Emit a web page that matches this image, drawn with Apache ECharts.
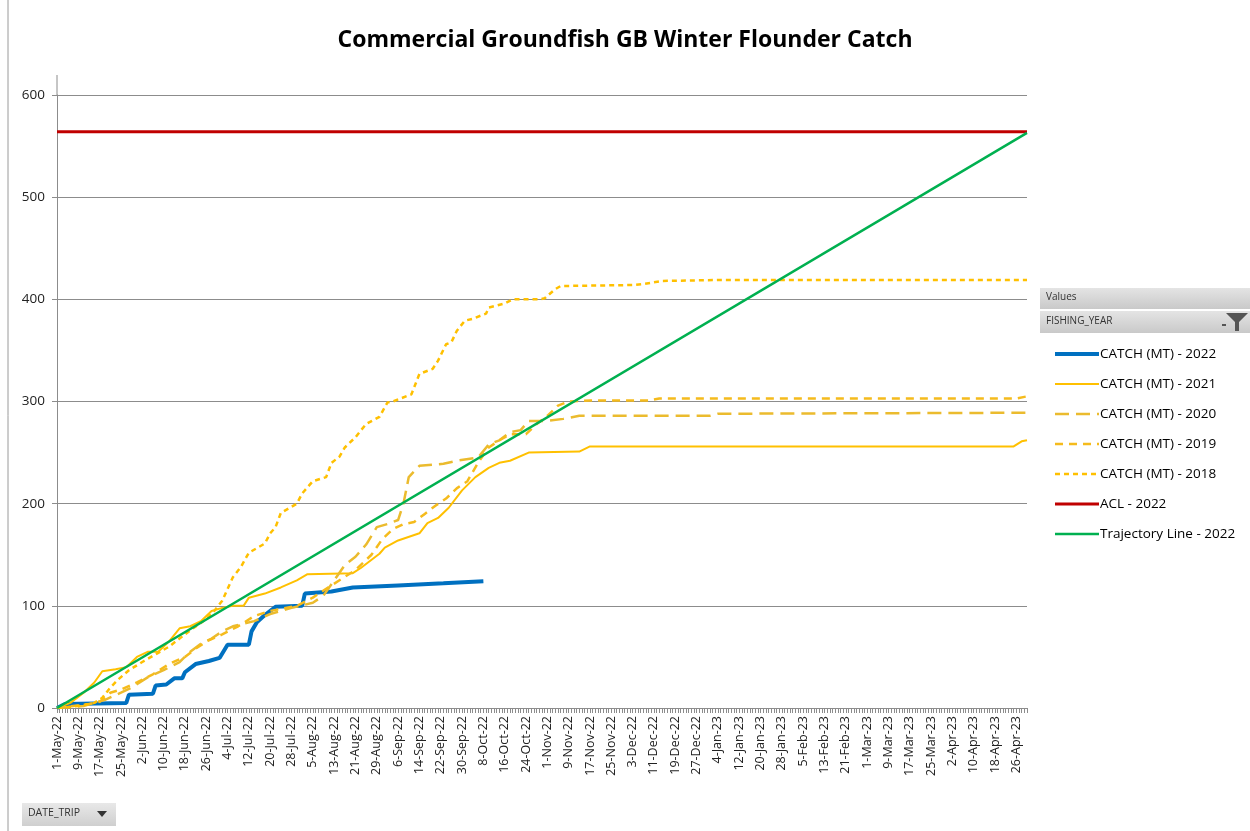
<!DOCTYPE html>
<html>
<head>
<meta charset="utf-8">
<script src="https://cdn.jsdelivr.net/npm/echarts@6/dist/echarts.min.js"></script>
<style>
  html, body { margin: 0; padding: 0; background: #fff; }
  #chart { width: 1250px; height: 831px; }
</style>
</head>
<body>
<div id="chart"></div>
<script>
// day-by-day category axis, fishing year 1-May-22 .. 30-Apr-23
const monthNames = ['Jan', 'Feb', 'Mar', 'Apr', 'May', 'Jun', 'Jul', 'Aug', 'Sep', 'Oct', 'Nov', 'Dec']
const days = []
for (let d = new Date(Date.UTC(2022, 4, 1)); d <= new Date(Date.UTC(2023, 3, 30)); d.setUTCDate(d.getUTCDate() + 1)) {
  days.push(d.getUTCDate() + '-' + monthNames[d.getUTCMonth()] + '-' + String(d.getUTCFullYear()).slice(2))
}

const yTicks = [0, 100, 200, 300, 400, 500, 600]

// [day index, cumulative catch (mt)]
const catch2022 = [[0, 0], [3, 4], [26, 5], [27, 13], [36, 14], [37, 22], [41, 23], [44, 29], [47, 29], [48, 35], [52, 43], [57, 46], [61, 49], [64, 62], [72, 62], [73, 75], [75, 84], [78, 91], [82, 99], [92, 100], [93, 112], [103, 114], [111, 118], [128, 120], [145, 122], [160, 124]]
const catch2021 = [[0, 0], [5, 5], [10, 15], [14, 25], [17, 36], [22, 38], [26, 40], [30, 50], [34, 55], [38, 55], [42, 65], [46, 78], [50, 80], [54, 85], [58, 95], [62, 98], [66, 100], [70, 100], [72, 108], [78, 112], [84, 118], [90, 125], [94, 131], [111, 132], [114, 137], [121, 151], [123, 157], [128, 164], [136, 171], [139, 181], [143, 186], [147, 196], [152, 213], [157, 226], [162, 235], [166, 240], [170, 242], [177, 250], [196, 251], [200, 256], [359, 256], [362, 261], [364, 262]]
const catch2020 = [[0, 0], [10, 2], [18, 8], [24, 15], [28, 20], [34, 30], [40, 37], [46, 45], [50, 55], [54, 63], [58, 68], [62, 75], [66, 80], [74, 85], [80, 92], [88, 98], [96, 103], [100, 110], [104, 125], [108, 140], [112, 148], [116, 160], [120, 177], [124, 180], [128, 184], [130, 200], [132, 226], [136, 237], [145, 239], [150, 242], [158, 245], [162, 258], [166, 262], [170, 270], [174, 272], [177, 281], [184, 281], [190, 283], [196, 286], [245, 286], [248, 288], [364, 289]]
const catch2019 = [[0, 0], [6, 2], [12, 4], [16, 6], [20, 15], [24, 18], [30, 25], [36, 33], [42, 43], [48, 50], [52, 58], [56, 65], [62, 72], [68, 80], [74, 90], [80, 95], [90, 100], [96, 108], [100, 115], [106, 125], [112, 135], [118, 150], [122, 165], [126, 175], [130, 180], [134, 182], [138, 190], [142, 198], [146, 205], [150, 215], [154, 222], [158, 240], [162, 255], [166, 262], [170, 268], [176, 268], [180, 278], [184, 286], [188, 296], [192, 300], [200, 301], [222, 301], [226, 303], [360, 303], [364, 305]]
const catch2018 = [[0, 0], [8, 2], [14, 5], [17, 10], [20, 20], [23, 28], [27, 37], [32, 45], [38, 54], [42, 60], [46, 68], [50, 76], [56, 87], [59, 95], [62, 105], [66, 128], [69, 138], [72, 152], [78, 161], [80, 171], [82, 177], [84, 191], [90, 200], [92, 210], [96, 222], [101, 226], [103, 240], [106, 246], [108, 255], [112, 265], [116, 278], [121, 285], [124, 299], [126, 300], [133, 307], [136, 327], [141, 332], [143, 340], [146, 356], [148, 358], [150, 369], [153, 379], [156, 381], [161, 386], [162, 392], [168, 396], [171, 400], [181, 400], [183, 401], [187, 410], [189, 413], [216, 414], [220, 415], [227, 418], [250, 419], [364, 419]]
const acl2022 = [[0, 564], [364, 564]]
const trajectory2022 = [[0, 0], [364, 563]]

const seriesNames = ['CATCH (MT) - 2022', 'CATCH (MT) - 2021', 'CATCH (MT) - 2020', 'CATCH (MT) - 2019', 'CATCH (MT) - 2018', 'ACL - 2022', 'Trajectory Line - 2022']
const seriesWidths = [4, 2, 2.5, 2.5, 2.5, 3, 2.5]

const mychart = echarts.init(document.getElementById('chart'))
const font = 'Open Sans'

function lineSeries(name, data, color, width, type) {
  return {
    name: name,
    type: 'line',
    data: data,
    showSymbol: false,
    symbol: 'none',
    animation: false,
    lineStyle: { color: color, width: width, type: type || 'solid', cap: 'butt' },
    itemStyle: { color: color },
  }
}

mychart.setOption({
  backgroundColor: '#ffffff',
  animation: false,
  textStyle: { fontFamily: font },
  title: {
    text: 'Commercial Groundfish GB Winter Flounder Catch',
    left: 620,
    textAlign: 'center',
    top: 24,
    textStyle: { fontFamily: font, fontSize: 23, fontWeight: 'bold', color: '#000' },
  },
  legend: {
    orient: 'vertical',
    left: 1048,
    top: 342,
    itemWidth: 44,
    itemHeight: 14,
    itemGap: 16,
    itemStyle: { opacity: 0 },
    textStyle: { fontFamily: font, fontSize: 13.5, color: '#000', padding: [0, 0, 0, -4] },
    data: seriesNames.map((n, i) => ({ name: n, lineStyle: { width: seriesWidths[i] } })),
  },
  grid: { left: 57, right: 223, top: 95, bottom: 123 },
  xAxis: {
    type: 'category',
    boundaryGap: false,
    data: days,
    axisLine: { lineStyle: { color: '#8c8c8c', width: 1 } },
    axisTick: { show: true, interval: 0, length: 5, lineStyle: { color: '#8c8c8c' } },
    axisLabel: { interval: 7, rotate: 90, fontFamily: font, fontSize: 12.5, color: '#222', margin: 8 },
    splitLine: { show: false },
  },
  yAxis: {
    type: 'value',
    min: yTicks[0],
    max: yTicks[yTicks.length - 1],
    interval: 100,
    axisLine: { show: true, lineStyle: { color: '#8c8c8c' } },
    axisTick: { show: true, length: 5, lineStyle: { color: '#8c8c8c' } },
    axisLabel: { fontFamily: font, fontSize: 13.5, color: '#222', margin: 12 },
    splitLine: { show: true, lineStyle: { color: '#8c8c8c', width: 1 } },
  },
  graphic: [
    { type: 'line', shape: { x1: 8, y1: 0, x2: 8, y2: 831 }, style: { stroke: '#9a9a9a', lineWidth: 1 } },
    { type: 'line', shape: { x1: 57, y1: 75, x2: 57, y2: 95 }, style: { stroke: '#8c8c8c', lineWidth: 1 } },
    {
      type: 'rect', shape: { x: 1040, y: 288, width: 212, height: 21 },
      style: { fill: new echarts.graphic.LinearGradient(0, 0, 0, 1, [{ offset: 0, color: '#e4e4e4' }, { offset: 1, color: '#c9c9c9' }]) },
    },
    { type: 'text', left: 1046, top: 292, style: { text: 'Values', fontFamily: font, fontSize: 10, fill: '#333' } },
    {
      type: 'rect', shape: { x: 1040, y: 311, width: 212, height: 22 },
      style: { fill: new echarts.graphic.LinearGradient(0, 0, 0, 1, [{ offset: 0, color: '#e4e4e4' }, { offset: 1, color: '#c9c9c9' }]) },
    },
    { type: 'text', left: 1046, top: 316, style: { text: 'FISHING_YEAR', fontFamily: font, fontSize: 10, fill: '#333' } },
    { type: 'polygon', shape: { points: [[1226, 313], [1248, 313], [1239, 322], [1239, 331], [1235, 331], [1235, 322]] }, style: { fill: '#555' } },
    { type: 'rect', shape: { x: 1222, y: 324, width: 4, height: 2 }, style: { fill: '#555' } },
    {
      type: 'rect', shape: { x: 22, y: 803, width: 94, height: 23 },
      style: { fill: new echarts.graphic.LinearGradient(0, 0, 0, 1, [{ offset: 0, color: '#e8e8e8' }, { offset: 1, color: '#cfcfcf' }]) },
    },
    { type: 'text', left: 28, top: 808, style: { text: 'DATE_TRIP', fontFamily: font, fontSize: 10.5, fill: '#333' } },
    { type: 'polygon', shape: { points: [[97, 811], [107, 811], [102, 817]] }, style: { fill: '#333' } },
  ],
  series: [
    lineSeries(seriesNames[0], catch2022, '#0070c0', seriesWidths[0]),
    lineSeries(seriesNames[1], catch2021, '#ffc000', seriesWidths[1]),
    lineSeries(seriesNames[2], catch2020, '#ebbb2e', seriesWidths[2], [14, 7]),
    lineSeries(seriesNames[3], catch2019, '#f5bb1c', seriesWidths[3], [8, 6]),
    lineSeries(seriesNames[4], catch2018, '#ffc000', seriesWidths[4], [5, 4]),
    lineSeries(seriesNames[5], acl2022, '#c00000', seriesWidths[5]),
    lineSeries(seriesNames[6], trajectory2022, '#00b050', seriesWidths[6]),
  ],
})
</script>
</body>
</html>
